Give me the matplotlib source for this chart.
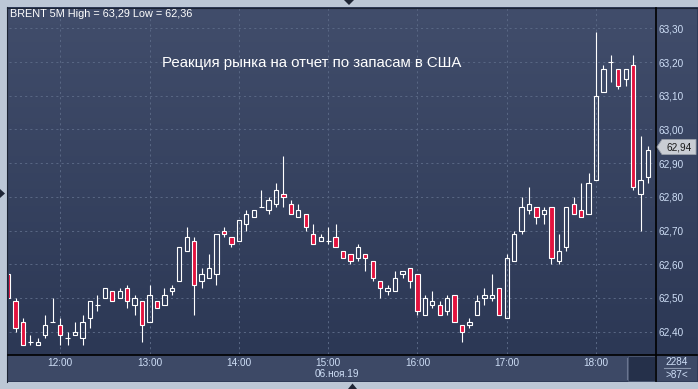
import numpy as np
import matplotlib
matplotlib.use("Agg")
import matplotlib.pyplot as plt
from matplotlib.patches import Rectangle, Polygon
from matplotlib.lines import Line2D
from matplotlib.colors import LinearSegmentedColormap

# ---------------- data ----------------
times = ["11:25", "11:30", "11:35", "11:40", "11:45", "11:50", "11:55",
         "12:00", "12:05", "12:10", "12:15", "12:20", "12:25", "12:30", "12:35", "12:40", "12:45", "12:50", "12:55",
         "13:00", "13:05", "13:10", "13:15", "13:20", "13:25", "13:30", "13:35", "13:40", "13:45", "13:50", "13:55",
         "14:00", "14:05", "14:10", "14:15", "14:20", "14:25", "14:30", "14:35", "14:40", "14:45", "14:50", "14:55",
         "15:00", "15:05", "15:10", "15:15", "15:20", "15:25", "15:30", "15:35", "15:40", "15:45", "15:50", "15:55",
         "16:00", "16:05", "16:10", "16:15", "16:20", "16:25", "16:30", "16:35", "16:40", "16:45", "16:50", "16:55",
         "17:00", "17:05", "17:10", "17:15", "17:20", "17:25", "17:30", "17:35", "17:40", "17:45", "17:50", "17:55",
         "18:00", "18:05", "18:10", "18:15", "18:20", "18:25", "18:30", "18:35"]

opens = [62.57, 62.49, 62.43, 62.37, 62.36, 62.39, 62.43,
         62.42, 62.38, 62.39, 62.38, 62.44, 62.48, 62.50, 62.52, 62.50, 62.53, 62.48, 62.49,
         62.43, 62.49, 62.48, 62.52, 62.55, 62.64, 62.67, 62.55, 62.56, 62.57, 62.70, 62.68,
         62.67, 62.72, 62.74, 62.77, 62.76, 62.78, 62.81, 62.78, 62.74, 62.75, 62.69, 62.67,
         62.67, 62.68, 62.64, 62.63, 62.62, 62.63, 62.61, 62.55, 62.52, 62.52, 62.57, 62.59,
         62.57, 62.45, 62.48, 62.48, 62.46, 62.51, 62.42, 62.42, 62.45, 62.50, 62.50, 62.53,
         62.44, 62.61, 62.70, 62.76, 62.77, 62.75, 62.77, 62.61, 62.65, 62.78, 62.76, 62.75,
         62.85, 63.11, 63.20, 63.18, 63.15, 63.19, 62.81, 62.86]

highs = [62.58, 62.50, 62.44, 62.39, 62.38, 62.45, 62.50,
         62.44, 62.40, 62.43, 62.45, 62.49, 62.51, 62.53, 62.52, 62.53, 62.54, 62.51, 62.49,
         62.54, 62.49, 62.53, 62.54, 62.65, 62.71, 62.68, 62.59, 62.63, 62.69, 62.71, 62.68,
         62.73, 62.76, 62.76, 62.82, 62.80, 62.84, 62.92, 62.79, 62.78, 62.75, 62.72, 62.69,
         62.71, 62.72, 62.64, 62.63, 62.66, 62.63, 62.61, 62.55, 62.54, 62.58, 62.58, 62.59,
         62.57, 62.51, 62.52, 62.49, 62.51, 62.51, 62.42, 62.44, 62.51, 62.53, 62.57, 62.53,
         62.63, 62.70, 62.80, 62.83, 62.77, 62.77, 62.77, 62.69, 62.77, 62.80, 62.84, 62.87,
         63.29, 63.19, 63.22, 63.18, 63.18, 63.22, 62.98, 62.95]

lows = [62.50, 62.40, 62.36, 62.36, 62.36, 62.38, 62.43,
        62.36, 62.36, 62.39, 62.36, 62.41, 62.46, 62.50, 62.49, 62.50, 62.47, 62.45, 62.37,
        62.43, 62.47, 62.48, 62.51, 62.55, 62.64, 62.45, 62.53, 62.56, 62.54, 62.68, 62.65,
        62.67, 62.70, 62.74, 62.77, 62.75, 62.77, 62.77, 62.75, 62.74, 62.70, 62.66, 62.67,
        62.66, 62.65, 62.62, 62.60, 62.61, 62.58, 62.55, 62.50, 62.51, 62.52, 62.56, 62.53,
        62.45, 62.45, 62.47, 62.45, 62.45, 62.43, 62.37, 62.41, 62.45, 62.48, 62.49, 62.45,
        62.44, 62.61, 62.69, 62.75, 62.72, 62.72, 62.60, 62.60, 62.64, 62.75, 62.74, 62.75,
        62.85, 63.11, 63.14, 63.12, 63.13, 62.82, 62.70, 62.84]

closes = [62.50, 62.41, 62.36, 62.37, 62.37, 62.42, 62.43,
          62.39, 62.38, 62.40, 62.43, 62.49, 62.48, 62.53, 62.49, 62.52, 62.49, 62.50, 62.42,
          62.51, 62.47, 62.51, 62.53, 62.65, 62.68, 62.54, 62.57, 62.59, 62.69, 62.69, 62.66,
          62.73, 62.75, 62.76, 62.77, 62.79, 62.82, 62.80, 62.75, 62.76, 62.71, 62.66, 62.68,
          62.67, 62.65, 62.62, 62.61, 62.65, 62.62, 62.56, 62.53, 62.53, 62.56, 62.58, 62.55,
          62.46, 62.50, 62.49, 62.45, 62.50, 62.43, 62.40, 62.43, 62.49, 62.51, 62.51, 62.45,
          62.62, 62.69, 62.77, 62.78, 62.74, 62.76, 62.62, 62.64, 62.77, 62.75, 62.74, 62.84,
          63.10, 63.18, 63.20, 63.13, 63.18, 62.83, 62.85, 62.94]

y_ticks = [62.40, 62.50, 62.60, 62.70, 62.80, 62.90, 63.00, 63.10, 63.20, 63.30]
x_tick_labels = ["12:00", "13:00", "14:00", "15:00", "16:00", "17:00", "18:00"]
title = "Реакция рынка на отчет по запасам в США"
header = "BRENT 5M High = 63,29 Low = 62,36"
date_label = "06.ноя.19"
last_price = "62,94"
volume_label = "2284"
count_label = ">87<"

# ---------------- figure ----------------
W, H = 698, 389
fig = plt.figure(figsize=(W / 100, H / 100), dpi=100)
fig.patch.set_facecolor("#bcc7d6")

def fx(x):
    return x / W

def fy(y):
    return 1 - y / H

def rect_px(x0, y0, x1, y1, **kw):
    r = Rectangle((fx(x0), fy(y1)), fx(x1) - fx(x0), fy(y0) - fy(y1),
                  transform=fig.transFigure, **kw)
    fig.add_artist(r)
    return r

def line_px(xs, ys, **kw):
    fig.add_artist(Line2D([fx(v) for v in xs], [fy(v) for v in ys],
                          transform=fig.transFigure, **kw))

FONT = "Liberation Sans"
LABEL_COLOR = "#cfdff7"

# dark panel base
rect_px(7, 7, 698, 382, facecolor="#2f3b58", edgecolor="none", zorder=0)

# gradient background axes (plot + right scale)
bg = fig.add_axes([fx(8), fy(354), fx(697) - fx(8), fy(8) - fy(354)], zorder=0)
grad = np.linspace(0, 1, 256).reshape(-1, 1)
cmap = LinearSegmentedColormap.from_list("bgc", ["#2c3855", "#414d6b"])
bg.imshow(grad, aspect="auto", cmap=cmap, origin="lower", extent=[0, 1, 0, 1])
bg.set_axis_off()

# bottom scale panel
rect_px(8, 355, 697, 381, facecolor="#3d4966", edgecolor="none", zorder=1)
rect_px(628, 356, 655, 381, facecolor="#25304a", edgecolor="#4a5670", linewidth=0.7, zorder=2)
line_px([626.5, 626.5], [358, 379], color="#6a7590", linewidth=0.8, zorder=2)

# panel border lines
line_px([7.5, 7.5], [7, 382], color="#1c2434", linewidth=0.8, zorder=3)
line_px([7, 698], [7.5, 7.5], color="#1c2434", linewidth=0.8, zorder=3)

# ---------------- main axes ----------------
ax = fig.add_axes([fx(8.5), fy(354), fx(655) - fx(8.5), fy(8) - fy(354)], zorder=2)
ax.patch.set_alpha(0)

n = len(times)
x = np.arange(n)
o = np.array(opens)
h = np.array(highs)
l = np.array(lows)
c = np.array(closes)
top = np.maximum(o, c)
bot = np.minimum(o, c)
bear = c < o
doji = np.abs(c - o) < 0.004

# wicks (drawn as segments above and below body)
ax.vlines(x, top, h, color="white", linewidth=0.8, zorder=3)
ax.vlines(x, l, bot, color="white", linewidth=0.8, zorder=3)

bw = 0.58
nd = ~doji
ax.bar(x[nd & bear], (top - bot)[nd & bear], bottom=bot[nd & bear], width=bw,
       color="#e3123e", edgecolor="white", linewidth=0.8, zorder=4)
ax.bar(x[nd & ~bear], (top - bot)[nd & ~bear], bottom=bot[nd & ~bear], width=bw,
       color="none", edgecolor="white", linewidth=0.8, zorder=4)
ax.hlines(c[doji], x[doji] - bw / 2 - 0.05, x[doji] + bw / 2 + 0.05, color="white",
          linewidth=0.8, zorder=4)

ax.set_xlim(0.05, 86.93)
ax.set_ylim(62.3338, 63.3605)

hour_pos = [times.index(t) for t in x_tick_labels]
ax.set_xticks(hour_pos)
ax.set_xticklabels(x_tick_labels)
ax.set_yticks(y_ticks)
ax.set_yticklabels([f"{v:.2f}".replace(".", ",") for v in y_ticks])
ax.yaxis.tick_right()
ax.grid(True, color="#586683", linestyle=(0, (2, 3)), linewidth=0.75, zorder=1)
ax.set_axisbelow(True)
ax.tick_params(axis="both", length=0, labelsize=7.2, labelcolor=LABEL_COLOR)
ax.tick_params(axis="y", pad=2.5)
ax.tick_params(axis="x", pad=3.0)
for lab in ax.get_xticklabels() + ax.get_yticklabels():
    lab.set_fontfamily(FONT)
for s in ax.spines.values():
    s.set_visible(False)

# black separators
line_px([8, 697], [354.5, 354.5], color="black", linewidth=1.2, zorder=5)
line_px([655.5, 655.5], [8, 381], color="black", linewidth=1.2, zorder=5)

# texts
fig.text(fx(10), fy(14), header, color="white", fontsize=7.8, family=FONT,
         ha="left", va="center", zorder=6)
fig.text(fx(312), fy(63), title, color="white", fontsize=10.8, family=FONT,
         ha="center", va="center", zorder=6)
fig.text(fx(337), fy(374), date_label, color=LABEL_COLOR, fontsize=7.2, family=FONT,
         ha="center", va="center", zorder=6)

# last price tag
tag = Polygon([(fx(657), fy(147)), (fx(662), fy(139.5)), (fx(696), fy(139.5)),
               (fx(696), fy(154.5)), (fx(662), fy(154.5))], closed=True,
              transform=fig.transFigure, facecolor="#c9cdd4", edgecolor="#9aa0aa",
              linewidth=0.6, zorder=6)
fig.add_artist(tag)
fig.text(fx(679), fy(147.5), last_price, color="#1a1a1a", fontsize=7.2, family=FONT,
         ha="center", va="center", zorder=7)

# bottom right counters
fig.text(fx(677), fy(362), volume_label, color=LABEL_COLOR, fontsize=7.2, family=FONT,
         ha="center", va="center", zorder=6)
line_px([664, 690], [368, 368], color="#8a96ae", linewidth=0.8, zorder=6)
fig.text(fx(677), fy(374.5), count_label, color=LABEL_COLOR, fontsize=7.2, family=FONT,
         ha="center", va="center", zorder=6)

# small navigation triangles
for pts in ([(344, 0), (354, 0), (349, 5)],
            [(348, 389), (357, 389), (352.5, 383.5)],
            [(0, 189), (0, 198), (5, 193.5)]):
    fig.add_artist(Polygon([(fx(px), fy(py)) for px, py in pts], closed=True,
                           transform=fig.transFigure, facecolor="#1e2535",
                           edgecolor="none", zorder=6))

fig.savefig("out.png", dpi=100, facecolor=fig.get_facecolor())
